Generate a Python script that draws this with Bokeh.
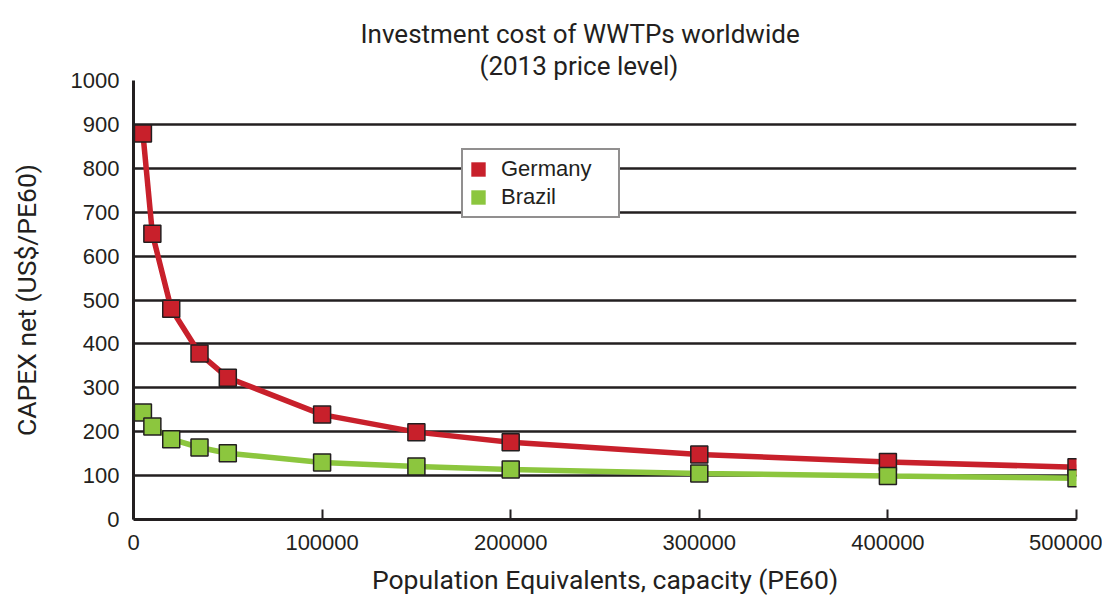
from bokeh.plotting import figure
from bokeh.models import Range1d, FixedTicker, Legend, LegendItem, Title, ColumnDataSource
from bokeh.embed import file_html
from bokeh.resources import INLINE

capacity = [5000, 10000, 20000, 35000, 50000, 100000, 150000, 200000, 300000, 400000, 500000]
germany = [879, 651, 480, 378, 323, 239, 199, 176, 148, 131, 119]
brazil = [244, 212, 183, 164, 151, 130, 121, 114, 105, 99, 94]
x_ticks = [0, 100000, 200000, 300000, 400000, 500000]
y_ticks = [0, 100, 200, 300, 400, 500, 600, 700, 800, 900, 1000]
title_lines = ["Investment cost of WWTPs worldwide", "(2013 price level)"]

RED = "#c8202b"
GREEN = "#8cc63e"
DARK = "#231f20"
COND = "Roboto"

p = figure(width=1102, height=597, output_backend="svg", toolbar_location=None,
           x_range=Range1d(0, 500000), y_range=Range1d(0, 1000),
           min_border_left=133, min_border_right=26, min_border_top=80, min_border_bottom=71)
p.outline_line_color = None
p.background_fill_color = "white"

src = ColumnDataSource(dict(x=capacity, g=germany, b=brazil))
p.line("x", "g", source=src, line_color=RED, line_width=5.5)
p.line("x", "b", source=src, line_color=GREEN, line_width=5.5)
p.scatter("x", "g", source=src, marker="square", size=17, fill_color=RED, line_color=DARK, line_width=1.5)
p.scatter("x", "b", source=src, marker="square", size=17, fill_color=GREEN, line_color=DARK, line_width=1.5)

nan = float("nan")
lg = p.quad(left=[nan], right=[nan], top=[nan], bottom=[nan], fill_color=RED, line_color=None)
lb = p.quad(left=[nan], right=[nan], top=[nan], bottom=[nan], fill_color=GREEN, line_color=None)
legend = Legend(items=[LegendItem(label="Germany", renderers=[lg]), LegendItem(label="Brazil", renderers=[lb])],
                location=(328, 301), border_line_color=DARK, border_line_width=2,
                background_fill_color="white", background_fill_alpha=1.0,
                label_text_font="Liberation Sans", label_text_font_size="22px",
                label_text_color=DARK, glyph_width=18, glyph_height=18, spacing=2,
                padding=6, margin=0, label_standoff=14, label_height=18, label_width=111)
p.add_layout(legend, "center")

p.xaxis.ticker = FixedTicker(ticks=x_ticks)
p.yaxis.ticker = FixedTicker(ticks=y_ticks)
p.xgrid.grid_line_color = None
p.ygrid.grid_line_color = DARK
p.ygrid.grid_line_width = 2.5
p.xaxis.axis_line_width = 3
p.yaxis.axis_line_width = 3
p.xaxis.axis_line_color = DARK
p.yaxis.axis_line_color = DARK
p.xaxis.major_tick_in = 10
p.xaxis.major_tick_out = 0
p.xaxis.major_tick_line_width = 2
p.xaxis.major_tick_line_color = DARK
p.yaxis.major_tick_in = 0
p.yaxis.major_tick_out = 0
p.xaxis.minor_tick_line_color = None
p.yaxis.minor_tick_line_color = None
p.xaxis.formatter.use_scientific = False
for ax in (p.xaxis, p.yaxis):
    ax.major_label_text_font = "Liberation Sans"
    ax.major_label_text_font_size = "22px"
    ax.major_label_text_color = DARK
    ax.axis_label_text_font = COND
    ax.axis_label_text_font_size = "26.5px"
    ax.axis_label_text_font_style = "normal"
    ax.axis_label_text_color = DARK
p.xaxis.major_label_standoff = 15
p.yaxis.major_label_standoff = 14
p.xaxis.axis_label = "Population Equivalents, capacity (PE60)"
p.yaxis.axis_label = "CAPEX net (US$/PE60)"
p.xaxis.axis_label_standoff = 11
p.yaxis.axis_label_standoff = 26

title_offsets = [227, 346]
for t, off in reversed(list(zip(title_lines, title_offsets))):
    p.add_layout(Title(text=t, align="left", offset=off, text_font=COND, text_font_size="26px",
                       text_font_style="normal", text_color=DARK, standoff=0), "above")

open("out.html", "w").write(file_html(p, INLINE))
